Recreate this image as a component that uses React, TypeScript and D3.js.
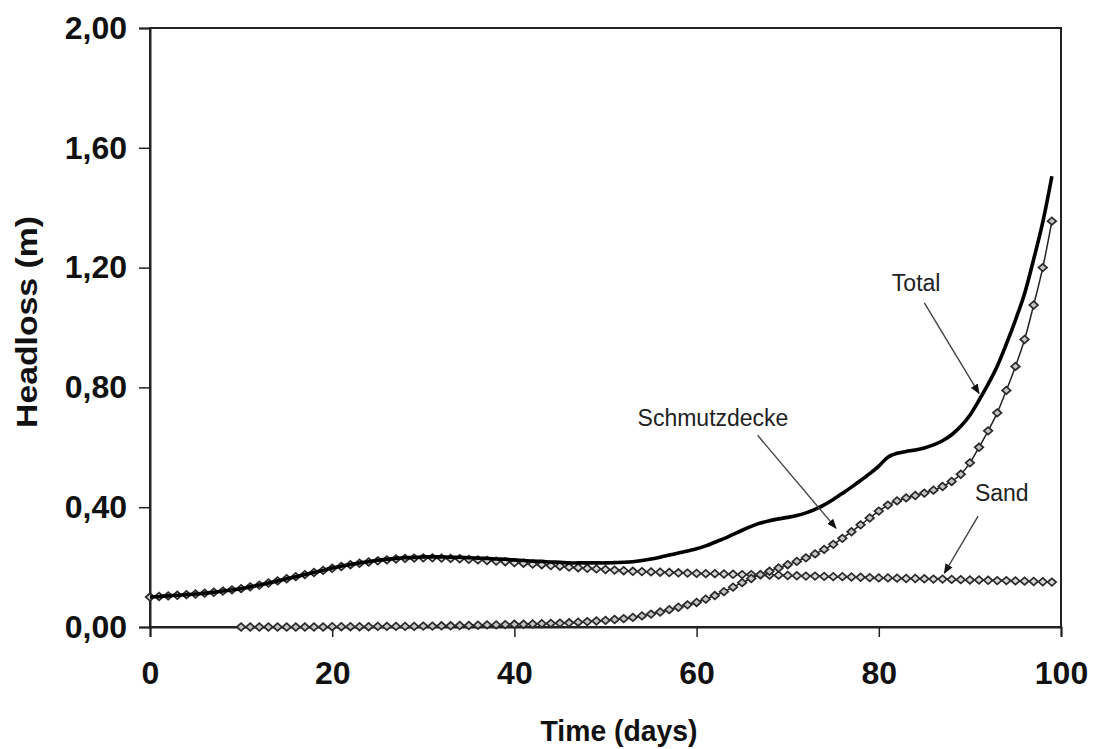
import React, { useEffect, useRef } from 'react';
import * as d3 from 'd3';

// daily values, day 0..99
const sandDays = d3.range(0, 100);
const sand = [
  0.100, 0.102, 0.104, 0.106, 0.108, 0.110, 0.113, 0.116, 0.120, 0.124,
  0.128, 0.134, 0.140, 0.147, 0.154, 0.161, 0.168, 0.175, 0.182, 0.189,
  0.196, 0.202, 0.208, 0.213, 0.217, 0.221, 0.224, 0.227, 0.229, 0.230,
  0.231, 0.231, 0.230, 0.229, 0.228, 0.226, 0.224, 0.222, 0.220, 0.218,
  0.215, 0.213, 0.210, 0.208, 0.205, 0.203, 0.200, 0.198, 0.196, 0.194,
  0.192, 0.190, 0.188, 0.186, 0.185, 0.184, 0.183, 0.182, 0.181, 0.180,
  0.179, 0.178, 0.178, 0.177, 0.176, 0.175, 0.175, 0.174, 0.173, 0.173,
  0.172, 0.171, 0.170, 0.170, 0.169, 0.168, 0.168, 0.167, 0.166, 0.165,
  0.164, 0.164, 0.163, 0.162, 0.162, 0.161, 0.160, 0.160, 0.159, 0.158,
  0.157, 0.157, 0.156, 0.155, 0.155, 0.154, 0.153, 0.152, 0.151, 0.150,
];

// day 10..99
const schmutzDays = d3.range(10, 100);
const schmutz = [
  0.000, 0.000, 0.000, 0.000, 0.000, 0.000, 0.000, 0.000, 0.000, 0.000,
  0.001, 0.001, 0.001, 0.001, 0.001, 0.002, 0.002, 0.002, 0.002, 0.002,
  0.003, 0.003, 0.004, 0.004, 0.005, 0.005, 0.006, 0.007, 0.007, 0.008,
  0.009, 0.009, 0.010, 0.011, 0.012, 0.013, 0.014, 0.016, 0.018, 0.020,
  0.022, 0.025, 0.028, 0.032, 0.037, 0.043, 0.050, 0.058, 0.066, 0.074,
  0.082, 0.093, 0.105, 0.118, 0.133, 0.148, 0.162, 0.175, 0.186, 0.197,
  0.208, 0.219, 0.231, 0.244, 0.259, 0.276, 0.296, 0.318, 0.341, 0.364,
  0.387, 0.407, 0.421, 0.431, 0.439, 0.447, 0.457, 0.469, 0.486, 0.510,
  0.548, 0.600, 0.655, 0.715, 0.790, 0.870, 0.960, 1.075, 1.200, 1.355,
];

// day 0..99
const totalDays = d3.range(0, 100);
const total = [
  0.100, 0.102, 0.104, 0.106, 0.108, 0.110, 0.113, 0.116, 0.120, 0.124,
  0.128, 0.134, 0.140, 0.147, 0.154, 0.161, 0.168, 0.175, 0.182, 0.189,
  0.197, 0.203, 0.209, 0.214, 0.218, 0.223, 0.226, 0.229, 0.231, 0.232,
  0.234, 0.234, 0.234, 0.233, 0.233, 0.231, 0.230, 0.229, 0.227, 0.226,
  0.224, 0.222, 0.220, 0.219, 0.217, 0.216, 0.214, 0.214, 0.214, 0.214,
  0.214, 0.215, 0.216, 0.218, 0.222, 0.227, 0.233, 0.240, 0.247, 0.254,
  0.261, 0.271, 0.283, 0.295, 0.309, 0.323, 0.336, 0.347, 0.355, 0.361,
  0.366, 0.372, 0.381, 0.393, 0.408, 0.426, 0.446, 0.467, 0.489, 0.512,
  0.537, 0.567, 0.580, 0.586, 0.591, 0.598, 0.608, 0.622, 0.642, 0.670,
  0.707, 0.757, 0.811, 0.871, 0.945, 1.025, 1.113, 1.228, 1.352, 1.505,
];

const xTicks = [0, 20, 40, 60, 80, 100];
const yTicks = [0, 0.4, 0.8, 1.2, 1.6, 2.0];

// annotation labels: text, label centre, arrow start, arrow end (data units)
const notes = [
  { text: 'Total', at: [84.1, 1.15], from: [85.0, 1.082], to: [91.0, 0.78] },
  { text: 'Schmutzdecke', at: [61.8, 0.698], from: [66.7, 0.64], to: [75.3, 0.33] },
  { text: 'Sand', at: [93.5, 0.449], from: [90.9, 0.37], to: [87.2, 0.18] },
];

const fmt = (v: number) => v.toFixed(2).replace('.', ',');

function App() {
  const ref = useRef<SVGSVGElement | null>(null);

  useEffect(() => {
    const width = 1096, height = 749;
    const margin = { top: 28, right: 35, bottom: 122, left: 150 };
    const font = "'Liberation Sans', Arial, sans-serif";

    const svg = d3.select(ref.current);
    svg.selectAll('*').remove();

    const x = d3.scaleLinear().domain([0, 100]).range([margin.left, width - margin.right]);
    const y = d3.scaleLinear().domain([0, 2]).range([height - margin.bottom, margin.top]);

    svg.append('defs').append('marker')
      .attr('id', 'arrow')
      .attr('viewBox', '0 0 10 10')
      .attr('refX', 9).attr('refY', 5)
      .attr('markerWidth', 10).attr('markerHeight', 10)
      .attr('markerUnits', 'userSpaceOnUse')
      .attr('orient', 'auto')
      .append('path').attr('d', 'M0,1 L10,5 L0,9 Z').attr('fill', '#111');

    // frame
    svg.append('rect')
      .attr('x', x(0)).attr('y', y(2))
      .attr('width', x(100) - x(0)).attr('height', y(0) - y(2))
      .attr('fill', 'none').attr('stroke', '#222').attr('stroke-width', 2);

    // y axis
    const yAxis = svg.append('g')
      .attr('transform', `translate(${x(0)},0)`)
      .call(d3.axisLeft(y).tickValues(yTicks).tickSize(11).tickPadding(12).tickFormat(d => fmt(+d)));
    yAxis.select('.domain').attr('stroke', '#222').attr('stroke-width', 2);
    yAxis.selectAll('line').attr('stroke', '#222').attr('stroke-width', 1.5);
    yAxis.selectAll('text')
      .attr('font-family', font).attr('font-size', 32).attr('font-weight', 'bold').attr('fill', '#111');

    // x axis
    const xAxis = svg.append('g')
      .attr('transform', `translate(0,${y(0)})`)
      .call(d3.axisBottom(x).tickValues(xTicks).tickSize(10).tickPadding(24).tickFormat(d3.format('d')));
    xAxis.select('.domain').attr('stroke', '#222').attr('stroke-width', 2);
    xAxis.selectAll('line').attr('stroke', '#222').attr('stroke-width', 1.5);
    xAxis.selectAll('text')
      .attr('font-family', font).attr('font-size', 32).attr('font-weight', 'bold').attr('fill', '#111');

    // axis titles
    svg.append('text')
      .attr('x', 619).attr('y', 741)
      .attr('text-anchor', 'middle')
      .attr('font-family', font).attr('font-size', 30).attr('font-weight', 'bold').attr('fill', '#111')
      .attr('textLength', 157).attr('lengthAdjust', 'spacingAndGlyphs')
      .text('Time (days)');
    svg.append('text')
      .attr('transform', `translate(37,322) rotate(-90)`)
      .attr('text-anchor', 'middle')
      .attr('font-family', font).attr('font-size', 30).attr('font-weight', 'bold').attr('fill', '#111')
      .attr('textLength', 212).attr('lengthAdjust', 'spacingAndGlyphs')
      .text('Headloss (m)');

    const line = d3.line().curve(d3.curveCatmullRom);
    const diamond = 'M0,-3.8 L4.3,0 L0,3.8 L-4.3,0 Z';

    const drawMarked = (days: number[], vals: number[], fill: string) => {
      const pts = days.map((d, i) => [x(d), y(vals[i])] as [number, number]);
      svg.append('path')
        .attr('d', line(pts))
        .attr('fill', 'none').attr('stroke', '#222').attr('stroke-width', 1.5);
      svg.append('g').selectAll('path')
        .data(pts)
        .join('path')
        .attr('transform', d => `translate(${d[0]},${d[1]})`)
        .attr('d', diamond)
        .attr('fill', fill).attr('stroke', '#2a2a2a').attr('stroke-width', 1.7);
    };

    drawMarked(sandDays, sand, '#d6d6d6');
    drawMarked(schmutzDays, schmutz, '#c4c4c4');

    // total
    const totPts = totalDays.map((d, i) => [x(d), y(total[i])] as [number, number]);
    svg.append('path')
      .attr('d', line(totPts))
      .attr('fill', 'none').attr('stroke', '#000').attr('stroke-width', 3.6)
      .attr('stroke-linejoin', 'round');

    // annotations
    notes.forEach(n => {
      svg.append('text')
        .attr('x', x(n.at[0])).attr('y', y(n.at[1]))
        .attr('text-anchor', 'middle').attr('dominant-baseline', 'central')
        .attr('font-family', font).attr('font-size', 23).attr('fill', '#222')
        .text(n.text);
      svg.append('line')
        .attr('x1', x(n.from[0])).attr('y1', y(n.from[1]))
        .attr('x2', x(n.to[0])).attr('y2', y(n.to[1]))
        .attr('stroke', '#444').attr('stroke-width', 1.4)
        .attr('marker-end', 'url(#arrow)');
    });
  }, []);

  return (
    <svg
      ref={ref}
      width={1096}
      height={749}
      style={{ position: 'absolute', left: 0, top: 0, background: '#fff' }}
    />
  );
}

export default App;
